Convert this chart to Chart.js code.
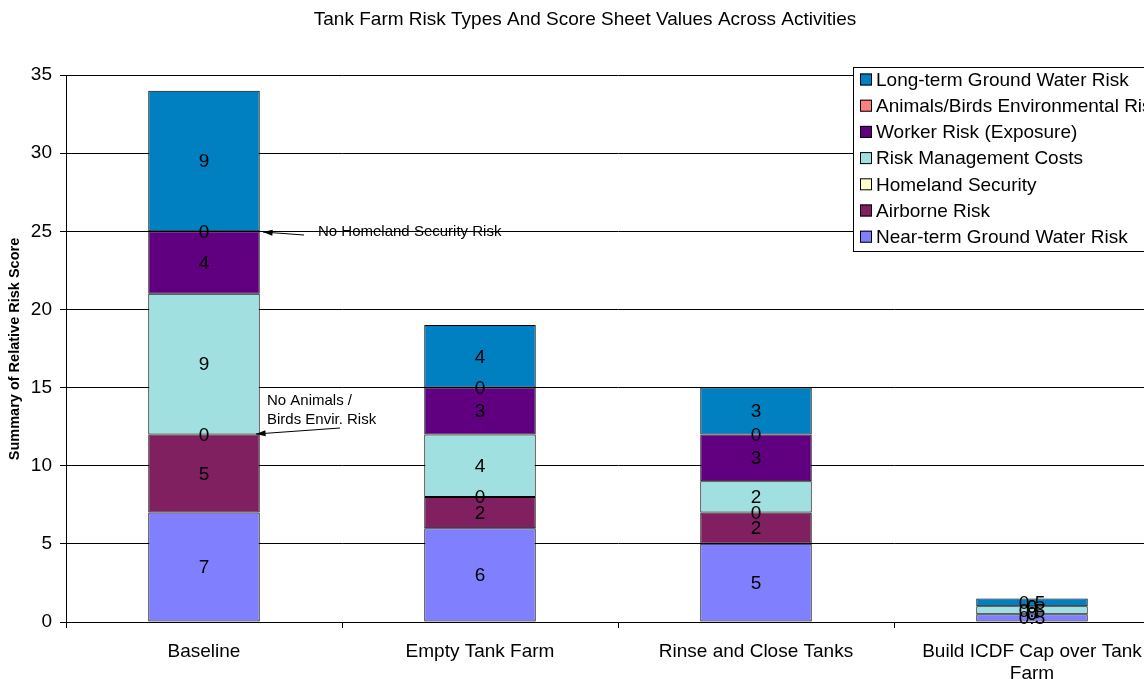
<!DOCTYPE html>
<html>
<head>
<meta charset="utf-8">
<script src="https://cdn.jsdelivr.net/npm/chart.js@4/dist/chart.umd.min.js"></script>
<style>
  html, body { margin: 0; padding: 0; background: #fff; overflow: hidden; }
  #riskChart { display: block; }
</style>
</head>
<body>
<canvas id="riskChart" width="1250" height="679" style="width:1250px;height:679px"></canvas>
<script>
const activities = ["Baseline", "Empty Tank Farm", "Rinse and Close Tanks", ["Build ICDF Cap over Tank", "Farm"]];

// stacked bottom to top
const nearTermGW = [7, 6, 5, 0.5];
const airborne = [5, 2, 2, 0];
const homelandSecurity = [0, 0, 0, 0];
const riskMgmtCosts = [9, 4, 2, 0.5];
const workerRisk = [4, 3, 3, 0];
const animalsBirds = [0, 0, 0, 0];
const longTermGW = [9, 4, 3, 0.5];

const yTicks = [0, 5, 10, 15, 20, 25, 30, 35];

const FONT = "'Liberation Sans', Arial, sans-serif";

const datasets = [
  { label: "Near-term Ground Water Risk", data: nearTermGW, backgroundColor: "#8080FF" },
  { label: "Airborne Risk", data: airborne, backgroundColor: "#802060" },
  { label: "Homeland Security", data: homelandSecurity, backgroundColor: "#FFFFCC" },
  { label: "Risk Management Costs", data: riskMgmtCosts, backgroundColor: "#A0E0E0" },
  { label: "Worker Risk (Exposure)", data: workerRisk, backgroundColor: "#600080" },
  { label: "Animals/Birds Environmental Risk", data: animalsBirds, backgroundColor: "#FF8080" },
  { label: "Long-term Ground Water Risk", data: longTermGW, backgroundColor: "#0080C0" }
].map(d => Object.assign(d, {
  borderColor: "#000",
  borderWidth: 1,
  borderSkipped: false,
  categoryPercentage: 1,
  barPercentage: 0.404
}));

// title, axis title, segment values, notes and legend box
const decorations = {
  id: "decorations",
  afterDatasetsDraw(chart) {
    const ctx = chart.ctx;
    ctx.save();
    ctx.fillStyle = "#000";
    ctx.textAlign = "center";
    ctx.textBaseline = "middle";

    // segment values
    ctx.font = "19px " + FONT;
    chart.data.datasets.forEach((ds, i) => {
      chart.getDatasetMeta(i).data.forEach((bar, j) => {
        const mid = (bar.y + bar.base) / 2;
        ctx.fillText(String(ds.data[j]), bar.x, mid + 1);
      });
    });

    // chart title
    ctx.font = "19px " + FONT;
    ctx.fillText("Tank Farm Risk Types And Score Sheet Values Across Activities", 585, 20);

    // y axis title
    ctx.save();
    ctx.translate(15, 349);
    ctx.rotate(-Math.PI / 2);
    ctx.font = "bold 14.5px " + FONT;
    ctx.fillText("Summary of Relative Risk Score", 0, 0);
    ctx.restore();

    // notes with arrows
    const arrow = (x1, y1, x2, y2) => {
      ctx.beginPath();
      ctx.moveTo(x1, y1);
      ctx.lineTo(x2, y2);
      ctx.strokeStyle = "#000";
      ctx.lineWidth = 1;
      ctx.stroke();
      const a = Math.atan2(y2 - y1, x2 - x1);
      ctx.beginPath();
      ctx.moveTo(x2, y2);
      ctx.lineTo(x2 - 10 * Math.cos(a - 0.3), y2 - 10 * Math.sin(a - 0.3));
      ctx.lineTo(x2 - 10 * Math.cos(a + 0.3), y2 - 10 * Math.sin(a + 0.3));
      ctx.closePath();
      ctx.fill();
    };
    ctx.font = "15px " + FONT;
    ctx.textAlign = "left";
    ctx.fillText("No Homeland Security Risk", 318, 232);
    arrow(304, 235, 263, 232);
    ctx.fillText("No Animals /", 267, 401);
    ctx.fillText("Birds Envir. Risk", 267, 420);
    arrow(340, 428, 256, 434);

    // legend box, listed top to bottom in reverse stack order
    const lx = 853, ly = 67, lw = 370, lh = 184, row = 26.2;
    ctx.fillStyle = "#fff";
    ctx.fillRect(lx, ly, lw, lh);
    ctx.strokeStyle = "#000";
    ctx.lineWidth = 1;
    ctx.strokeRect(lx + 0.5, ly + 0.5, lw, lh);
    ctx.font = "19px " + FONT;
    const items = chart.data.datasets.slice().reverse();
    items.forEach((ds, k) => {
      const cy = ly + 12.5 + k * row;
      ctx.fillStyle = ds.backgroundColor;
      ctx.fillRect(860, cy - 6, 12, 12);
      ctx.strokeRect(860.5, cy - 5.5, 11, 11);
      ctx.fillStyle = "#000";
      ctx.fillText(ds.label, 876, cy + 1);
    });
    ctx.restore();
  }
};

new Chart(document.getElementById("riskChart"), {
  type: "bar",
  data: { labels: activities, datasets: datasets },
  options: {
    responsive: false,
    animation: false,
    layout: { padding: { top: 75, right: 80, left: 0, bottom: 0 } },
    plugins: {
      legend: { display: false },
      tooltip: { enabled: false }
    },
    scales: {
      x: {
        stacked: true,
        afterFit(scale) { scale.height = 57; },
        grid: {
          offset: true,
          drawOnChartArea: false,
          drawTicks: true,
          tickLength: 6,
          color: "#000"
        },
        border: { color: "#000", width: 1 },
        ticks: {
          color: "#000",
          font: { family: FONT, size: 19, lineHeight: 1.15 },
          padding: 13,
          maxRotation: 0,
          autoSkip: false
        }
      },
      y: {
        stacked: true,
        min: 0,
        max: 35,
        afterFit(scale) { scale.width = 66; },
        afterBuildTicks(scale) { scale.ticks = yTicks.map(v => ({ value: v })); },
        grid: {
          color: "#000",
          lineWidth: 1,
          drawTicks: true,
          tickLength: 6
        },
        border: { color: "#000", width: 1 },
        ticks: {
          color: "#000",
          font: { family: FONT, size: 19 },
          padding: 8
        }
      }
    }
  },
  plugins: [decorations]
});
</script>
</body>
</html>
